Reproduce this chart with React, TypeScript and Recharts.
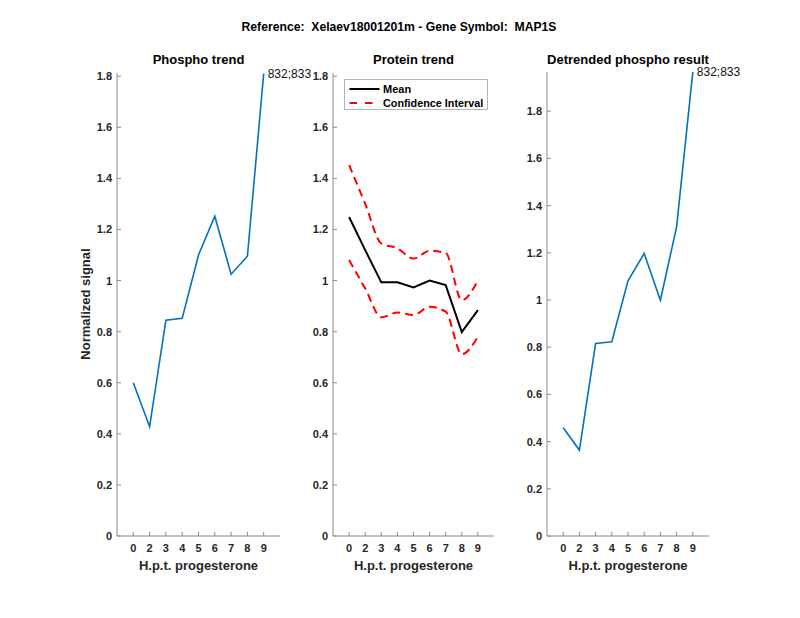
import React from 'react'
import { LineChart, Line, XAxis, YAxis, Legend } from 'recharts'

// hours post progesterone, plotted at slots 1..9 of a 0..10 axis
const hours = ['0', '2', '3', '4', '5', '6', '7', '8', '9']
const phosphoTrend = [0.6, 0.428, 0.845, 0.852, 1.1, 1.252, 1.025, 1.095, 1.81]
const proteinMean = [1.249, 1.119, 0.993, 0.993, 0.973, 1.0, 0.982, 0.798, 0.884]
const proteinUpper = [1.452, 1.3, 1.145, 1.126, 1.086, 1.116, 1.108, 0.923, 1.0]
const proteinLower = [1.08, 0.969, 0.856, 0.875, 0.865, 0.897, 0.878, 0.712, 0.78]
const detrended = [0.459, 0.364, 0.816, 0.823, 1.081, 1.197, 0.999, 1.31, 1.966]
const xTicks = [1, 2, 3, 4, 5, 6, 7, 8, 9]
const yTicks = [0, 0.2, 0.4, 0.6, 0.8, 1, 1.2, 1.4, 1.6, 1.8]
const peptideLabel = '832;833'

const FONT = '"Liberation Sans", Arial, Helvetica, sans-serif'
const AXIS = '#8a8a8a'
const INK = '#262626'
const BLUE = '#0072BD'

const rows = hours.map((h, i) => ({
  pos: i + 1,
  phospho: phosphoTrend[i],
  mean: proteinMean[i],
  upper: proteinUpper[i],
  lower: proteinLower[i],
  detrended: detrended[i],
}))

const XTick = (props: any) => {
  const { x, y, payload } = props
  return (
    <g>
      <line x1={x} x2={x} y1={y} y2={y - 4} stroke={AXIS} />
      <text x={x} y={y + 16} textAnchor="middle" fontFamily={FONT} fontSize={11} fontWeight="bold" fill={INK}>
        {hours[payload.value - 1]}
      </text>
    </g>
  )
}

const YTick = (props: any) => {
  const { x, y, payload } = props
  return (
    <g>
      <line x1={x} x2={x + 4} y1={y} y2={y} stroke={AXIS} />
      <text x={x - 5} y={y} dy="0.36em" textAnchor="end" fontFamily={FONT} fontSize={11} fontWeight="bold" fill={INK}>
        {String(Math.round(payload.value * 10) / 10)}
      </text>
    </g>
  )
}

const lastLabel = (p: any) => {
  if (p.index !== rows.length - 1) return <g />
  return (
    <text x={p.x + 4} y={p.y} dy="0.36em" fontFamily={FONT} fontSize={12} fill="#111">
      {peptideLabel}
    </text>
  )
}

const ProteinLegend = () => (
  <div style={{ border: '1px solid #b5b5b5', background: '#fff', width: 144, height: 31, boxSizing: 'border-box' }}>
    <svg width={142} height={29} style={{ display: 'block' }}>
      <line x1={4.5} x2={34.5} y1={9} y2={9} stroke="#000" strokeWidth={2} />
      <text x={38} y={9} dy="0.36em" fontFamily={FONT} fontSize={11} fontWeight="bold">Mean</text>
      <line x1={4.5} x2={34.5} y1={23} y2={23} stroke="#ff0000" strokeWidth={2} strokeDasharray="7.5 8" />
      <text x={38} y={23} dy="0.36em" fontFamily={FONT} fontSize={10.8} fontWeight="bold">Confidence Interval</text>
    </svg>
  </div>
)

function Panel({
  margin,
  yMax,
  children,
}: {
  margin: { top: number; right: number; bottom: number; left: number }
  yMax: number
  children: React.ReactNode
}) {
  return (
    <div style={{ position: 'absolute', left: 0, top: 0 }}>
      <LineChart width={800} height={618} data={rows} margin={margin}>
        <XAxis
          type="number"
          dataKey="pos"
          domain={[0, 10]}
          ticks={xTicks}
          height={40}
          stroke={AXIS}
          tickLine={false}
          tickSize={0}
          tickMargin={0}
          tick={<XTick />}
          allowDataOverflow
        />
        <YAxis
          type="number"
          domain={[0, yMax]}
          ticks={yTicks.filter((t) => t <= yMax)}
          width={40}
          stroke={AXIS}
          tickLine={false}
          tickSize={0}
          tickMargin={0}
          tick={<YTick />}
          allowDataOverflow
        />
        {children}
      </LineChart>
    </div>
  )
}

export default function App() {
  return (
    <div style={{ position: 'absolute', left: 0, top: 0, width: 800, height: 618, background: '#fff' }}>
      <Panel margin={{ top: 73, right: 520, bottom: 42, left: 77 }} yMax={1.8125}>
        <Line
          dataKey="phospho"
          stroke={BLUE}
          strokeWidth={1.6}
          dot={false}
          isAnimationActive={false}
          label={lastLabel}
        />
      </Panel>
      <Panel margin={{ top: 73, right: 306, bottom: 42, left: 293 }} yMax={1.8125}>
        <Line dataKey="upper" type="monotone" stroke="#ff0000" strokeWidth={2} strokeDasharray="8 5" dot={false} isAnimationActive={false} />
        <Line dataKey="lower" type="monotone" stroke="#ff0000" strokeWidth={2} strokeDasharray="8 5" dot={false} isAnimationActive={false} />
        <Line dataKey="mean" stroke="#000" strokeWidth={2} dot={false} isAnimationActive={false} />
        <Legend
          layout="vertical"
          align="center"
          verticalAlign="middle"
          content={<ProteinLegend />}
          wrapperStyle={{ left: 344, top: 79, width: 144, height: 31 }}
        />
      </Panel>
      <Panel margin={{ top: 72, right: 91, bottom: 42, left: 507 }} yMax={1.966}>
        <Line
          dataKey="detrended"
          stroke={BLUE}
          strokeWidth={1.6}
          dot={false}
          isAnimationActive={false}
          label={lastLabel}
        />
      </Panel>
      <svg width={800} height={618} style={{ position: 'absolute', left: 0, top: 0, pointerEvents: 'none' }}>
        <g fontFamily={FONT} fontWeight="bold" fontSize={13} fill="#000" textAnchor="middle">
          <text x={399} y={31} fontSize={12.2} xmlSpace="preserve" style={{ whiteSpace: 'pre' }}>
            Reference:  Xelaev18001201m - Gene Symbol:  MAP1S
          </text>
          <text x={198.5} y={64}>Phospho trend</text>
          <text x={413.5} y={64}>Protein trend</text>
          <text x={628} y={64}>Detrended phospho result</text>
          <text x={198.5} y={570} fill={INK}>H.p.t. progesterone</text>
          <text x={413.5} y={570} fill={INK}>H.p.t. progesterone</text>
          <text x={628} y={570} fill={INK}>H.p.t. progesterone</text>
          <text x={90} y={304} fill={INK} transform="rotate(-90 90 304)">Normalized signal</text>
        </g>
      </svg>
    </div>
  )
}
